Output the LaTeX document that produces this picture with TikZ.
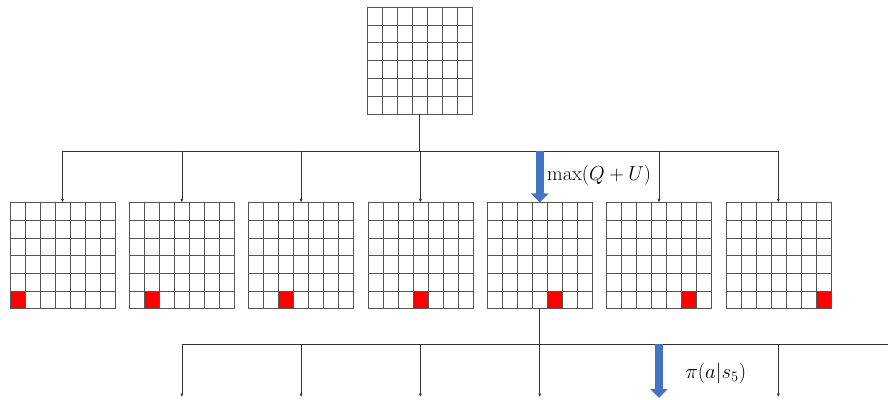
\documentclass[tikz,border=0pt]{standalone}
\usepackage{tikz}
\usetikzlibrary{arrows.meta,calc,positioning}
\definecolor{gridGray}{HTML}{555555}
\definecolor{pickBlue}{HTML}{4472C4}
\definecolor{moveRed}{HTML}{FF0000}

\begin{document}
\begin{tikzpicture}[
  x=1pt,y=1pt,
  board/.style={draw=gridGray,line width=0.6pt,minimum width=105pt,minimum height=106pt,inner sep=0pt,outer sep=0pt},
  wire/.style={draw=black!80,line width=0.6pt},
  drop/.style={wire,-{Latex[length=3.5pt,width=3pt]}},
  pick/.style={draw=pickBlue,line width=8pt,-{Triangle[length=9pt,width=17pt]}},
  font=\fontsize{18}{21}\selectfont
]
  \useasboundingbox (0,0) rectangle (888,399);

  \node[board,minimum height=107pt] (root) at (419.5,338.5) {};
  \foreach \i in {0,...,6}
    \node[board] (c\i) at (62.5+119.3*\i,143.5) {};

  % last move of each child
  \foreach \i in {0,...,6}
    \filldraw[fill=moveRed,draw=gridGray,line width=0.6pt] ($(c\i.south west)+(15*\i,0)$) rectangle +(15,106/6);

  % cells
  \foreach \n in {root,c0,c1,c2,c3,c4,c5,c6} {
    \foreach \k in {1,...,6}
      \draw[gridGray,line width=0.6pt] ($(\n.south west)!\k/7!(\n.south east)$) -- ($(\n.north west)!\k/7!(\n.north east)$);
    \foreach \k in {1,...,5}
      \draw[gridGray,line width=0.6pt] ($(\n.south west)!\k/6!(\n.north west)$) -- ($(\n.south east)!\k/6!(\n.north east)$);
  }

  % expansion
  \coordinate (hub) at (root.south |- 0,248);
  \draw[wire] (root.south) -- (hub);
  \draw[wire] (c0.north |- hub) -- (c6.north |- hub);
  \foreach \i in {0,1,2,3,5,6}
    \draw[drop] (c\i.north |- hub) -- (c\i.north);
  \draw[pick] (c4.north |- hub) -- (c4.north);
  \node[anchor=west] (select) at ($(c4.north |- hub)!0.5!(c4.north)+(4,1)$) {\scalebox{1.17}{$\max(Q+U)$}};

  % next level
  \coordinate (hubB) at (c4.south |- 0,55);
  \coordinate (busEnd) at (888,55);
  \draw[wire] (c4.south) -- (hubB);
  \draw[wire] (c1.south |- hubB) -- (busEnd);
  \foreach \i in {1,2,3,4,6} {
    \coordinate (leaf\i) at (c\i.south |- 0,2);
    \draw[drop] (c\i.south |- hubB) -- (leaf\i);
  }
  \coordinate (leaf5) at (c5.south |- 0,1);
  \draw[pick] (c5.south |- hubB) -- (leaf5);
  \node[anchor=west] (policy) at ($(c5.south |- hubB)!0.55!(leaf5)+(23,0)$) {\scalebox{1.2}{$\pi(a|s_5)$}};
\end{tikzpicture}
\end{document}
